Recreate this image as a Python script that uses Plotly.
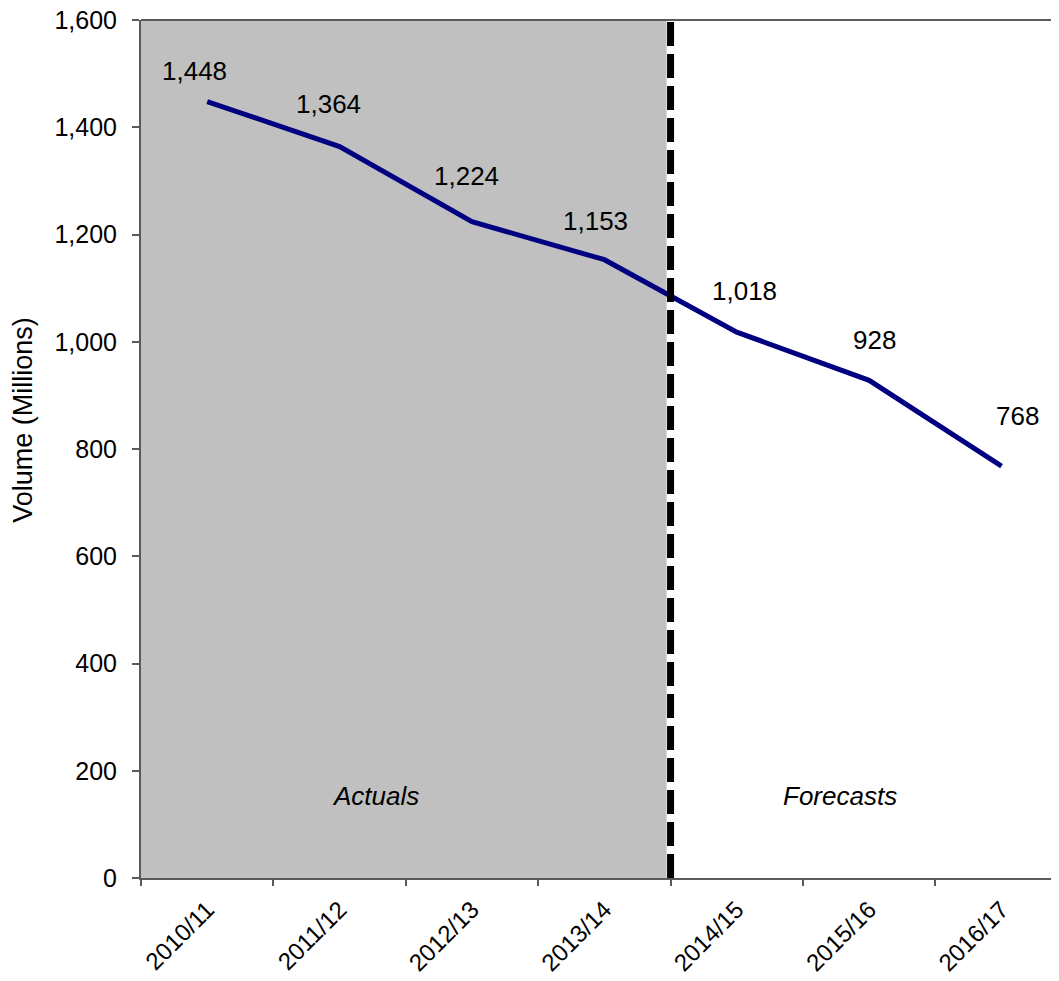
import plotly.graph_objects as go

# ---- data ----
categories = ["2010/11", "2011/12", "2012/13", "2013/14", "2014/15", "2015/16", "2016/17"]
volumes = [1448, 1364, 1224, 1153, 1018, 928, 768]
value_labels = ["1,448", "1,364", "1,224", "1,153", "1,018", "928", "768"]
y_ticks = [0, 200, 400, 600, 800, 1000, 1200, 1400, 1600]
y_tick_labels = ["0", "200", "400", "600", "800", "1,000", "1,200", "1,400", "1,600"]
n_actual = 4  # first four periods are actuals

# ---- label styling offsets (pixels) ----
label_dx = [-13, -11, -5, -9, 8, 5, 16]
label_dy = [31, 43, 46, 39, 41, 40, 50]

FONT = "Liberation Sans, Arial, sans-serif"
FS = 26
AXIS_COL = "#5a5a5a"

fig = go.Figure()

fig.add_trace(go.Scatter(
    x=list(range(len(categories))),
    y=volumes,
    mode="lines",
    line=dict(color="#000080", width=5),
    hoverinfo="skip",
    showlegend=False,
))

# shaded "actuals" region and separator
boundary = n_actual - 0.5
fig.add_shape(type="rect", xref="x", yref="y", x0=-0.5, x1=boundary - 0.03,
              y0=0, y1=1600, fillcolor="#C0C0C0", line=dict(width=0), layer="below")
fig.add_shape(type="line", xref="x", yref="y", x0=boundary, x1=boundary, y0=0, y1=1600,
              line=dict(color="black", width=7, dash="24px,8px"))
# top border
fig.add_shape(type="line", xref="paper", yref="paper", x0=0, x1=1, y0=1, y1=1,
              line=dict(color=AXIS_COL, width=2))

for i, (v, t) in enumerate(zip(volumes, value_labels)):
    fig.add_annotation(x=i, y=v, xref="x", yref="y", text=t, showarrow=False,
                       xanchor="center", yanchor="middle",
                       xshift=label_dx[i], yshift=label_dy[i],
                       font=dict(family=FONT, size=FS, color="black"))

fig.add_annotation(x=1.27, y=153, xref="x", yref="y", text="<i>Actuals</i>", showarrow=False,
                   font=dict(family=FONT, size=FS, color="black"))
fig.add_annotation(x=4.78, y=153, xref="x", yref="y", text="<i>Forecasts</i>", showarrow=False,
                   font=dict(family=FONT, size=FS, color="black"))

fig.add_annotation(x=0, y=0.534, xref="paper", yref="paper", xshift=-118,
                   text="Volume (Millions)", textangle=-90, showarrow=False,
                   xanchor="center", yanchor="middle",
                   font=dict(family=FONT, size=27, color="black"))

fig.update_xaxes(
    type="linear",
    range=[-0.5, 6.434],
    tickmode="array",
    tickvals=list(range(len(categories))),
    ticktext=categories,
    tickangle=-45,
    ticks="outside",
    ticklen=6,
    tickcolor="rgba(0,0,0,0)",
    ticklabeloverflow="allow",
    showgrid=False,
    zeroline=False,
    showline=True,
    linecolor=AXIS_COL,
    linewidth=2,
    automargin=False,
    tickfont=dict(family=FONT, size=24, color="black"),
)

# boundary ticks via an overlaid axis
fig.update_layout(xaxis2=dict(
    overlaying="x",
    side="bottom",
    range=[-0.5, 6.434],
    tickmode="array",
    tickvals=[i - 0.5 for i in range(len(categories) + 1)],
    ticktext=[""] * (len(categories) + 1),
    ticks="outside",
    ticklen=7,
    tickwidth=2,
    tickcolor=AXIS_COL,
    showgrid=False,
    zeroline=False,
    showline=False,
    showticklabels=False,
    automargin=False,
))
fig.add_trace(go.Scatter(x=[None], y=[None], xaxis="x2", showlegend=False, hoverinfo="skip"))

fig.update_yaxes(
    range=[0, 1600],
    tickmode="array",
    tickvals=y_ticks,
    ticktext=y_tick_labels,
    ticks="outside",
    ticklen=7,
    tickwidth=2,
    tickcolor=AXIS_COL,
    ticklabelstandoff=10,
    ticklabeloverflow="allow",
    showgrid=False,
    zeroline=False,
    showline=True,
    linecolor=AXIS_COL,
    linewidth=2,
    automargin=False,
    tickfont=dict(family=FONT, size=25, color="black"),
)

# page body has an 8px default margin: size the figure to fill the rest of the window
fig.update_layout(
    width=1051,
    height=973,
    margin=dict(l=133, r=0, t=12, b=103, autoexpand=False),
    plot_bgcolor="white",
    paper_bgcolor="white",
    showlegend=False,
)

fig.write_html("out.html")
